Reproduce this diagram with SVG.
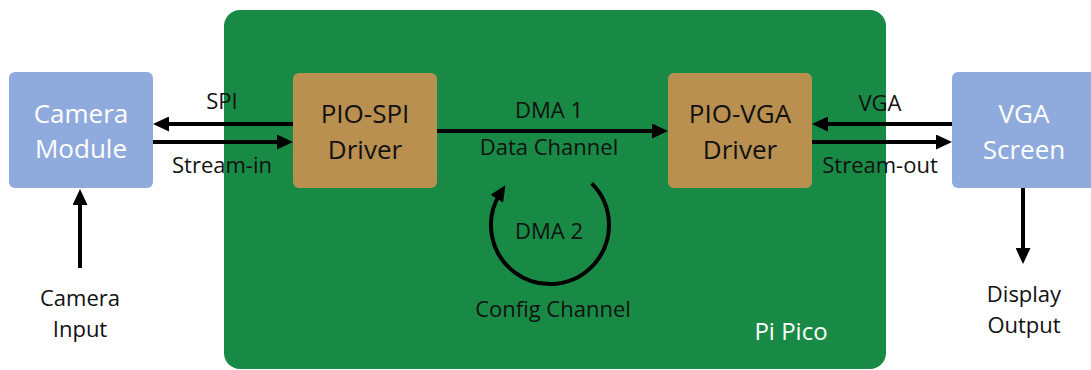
<svg xmlns="http://www.w3.org/2000/svg" width="1091" height="370" viewBox="0 0 1091 370">
  <defs>
    <style>
      .board { fill: #188A45; }
      .ext { fill: #8FAADC; }
      .drv { fill: #B9904F; }
      .ntext { font-family: "Open Sans", "Noto Sans", sans-serif; font-size: 26px; text-anchor: middle; }
      .white { fill: #FFFFFF; }
      .dark { fill: #111111; }
      .label { font-family: "Open Sans", "Noto Sans", sans-serif; font-size: 22px; text-anchor: middle; fill: #111111; }
      .wire { stroke: #000000; stroke-width: 4; fill: none; marker-end: url(#head); }
    </style>
    <marker id="head" markerUnits="userSpaceOnUse" markerWidth="16" markerHeight="15" refX="6" refY="7.5" orient="auto">
      <path d="M0,0 L16,7.5 L0,15 Z" fill="#000000"/>
    </marker>
  </defs>

  <!-- Pi Pico board -->
  <g id="pi-pico">
    <rect class="board" x="224" y="10" width="662" height="359" rx="16"/>
    <text class="ntext white" x="791" y="340" style="font-size:24px">Pi Pico</text>
  </g>

  <!-- Camera module -->
  <g id="camera-module">
    <rect class="ext" x="9" y="72" width="144" height="116" rx="6"/>
    <text class="ntext white" x="81" y="123">Camera</text>
    <text class="ntext white" x="81" y="158">Module</text>
  </g>

  <!-- PIO-SPI driver -->
  <g id="pio-spi">
    <rect class="drv" x="293" y="73" width="144" height="115" rx="6"/>
    <text class="ntext dark" x="365" y="123">PIO-SPI</text>
    <text class="ntext dark" x="365" y="159">Driver</text>
  </g>

  <!-- PIO-VGA driver -->
  <g id="pio-vga">
    <rect class="drv" x="668" y="73" width="144" height="115" rx="6"/>
    <text class="ntext dark" x="740" y="123">PIO-VGA</text>
    <text class="ntext dark" x="740" y="159">Driver</text>
  </g>

  <!-- VGA screen -->
  <g id="vga-screen">
    <rect class="ext" x="952" y="72" width="146" height="116" rx="6"/>
    <text class="ntext white" x="1024" y="123">VGA</text>
    <text class="ntext white" x="1024" y="159">Screen</text>
  </g>

  <!-- Free-standing labels -->
  <g id="camera-input">
    <text class="label" x="80" y="306">Camera</text>
    <text class="label" x="80" y="337">Input</text>
  </g>
  <g id="display-output">
    <text class="label" x="1024" y="302">Display</text>
    <text class="label" x="1024" y="333">Output</text>
  </g>

  <!-- Connectors -->
  <g id="connectors">
    <line class="wire" x1="293" y1="124" x2="163" y2="124"/>
    <line class="wire" x1="153" y1="142" x2="283" y2="142"/>
    <text class="label" x="222" y="109">SPI</text>
    <text class="label" x="222" y="173">Stream-in</text>

    <line class="wire" x1="437" y1="131" x2="658" y2="131"/>
    <text class="label" x="549" y="118">DMA 1</text>
    <text class="label" x="549" y="155">Data Channel</text>

    <path class="wire" d="M591.7,183.3 A59,59 0 1 1 500,193.7"/>
    <text class="label" x="549" y="239">DMA 2</text>
    <text class="label" x="553" y="317">Config Channel</text>

    <line class="wire" x1="952" y1="124" x2="822" y2="124"/>
    <line class="wire" x1="812" y1="142" x2="942" y2="142"/>
    <text class="label" x="880" y="111">VGA</text>
    <text class="label" x="880" y="173">Stream-out</text>

    <line class="wire" x1="80" y1="268" x2="80" y2="199"/>
    <line class="wire" x1="1023" y1="188" x2="1023" y2="254"/>
  </g>
</svg>
